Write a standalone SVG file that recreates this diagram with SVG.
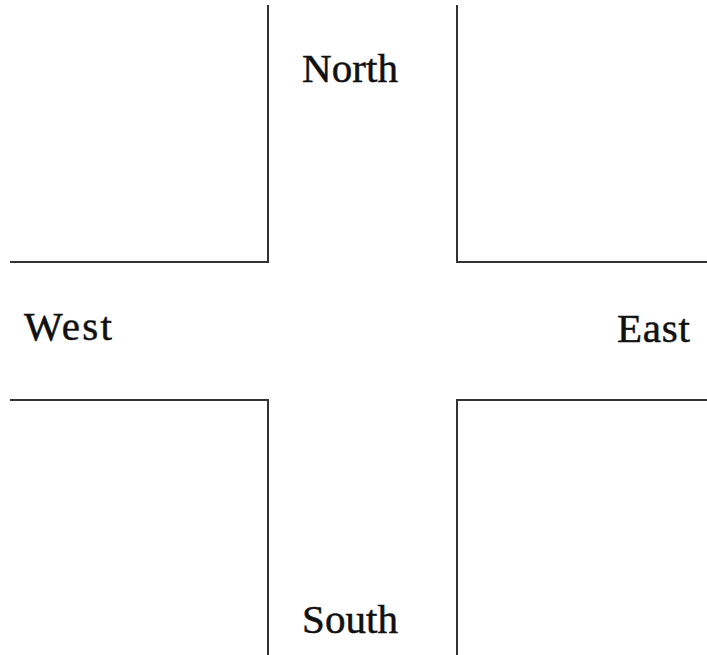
<svg xmlns="http://www.w3.org/2000/svg" width="707" height="655" viewBox="0 0 707 655">
<style>
.road{fill:none;stroke:#333;stroke-width:2}
.lbl{font-family:"Liberation Serif","DejaVu Serif",serif;font-size:41px;fill:#111;stroke:#111;stroke-width:0.5}
</style>
<rect width="707" height="655" fill="#fff"/>
<g id="connectors">
<path class="road" d="M268,5 V262 H10"/>
<path class="road" d="M457,5 V262 H707"/>
<path class="road" d="M10,400 H268 V655"/>
<path class="road" d="M707,400 H457 V655"/>
</g>
<g id="north"><text class="lbl" x="350" y="82" text-anchor="middle" textLength="96">North</text></g>
<g id="west"><text class="lbl" x="24" y="340" textLength="88">West</text></g>
<g id="east"><text class="lbl" x="617" y="342" textLength="73">East</text></g>
<g id="south"><text class="lbl" x="350" y="633" text-anchor="middle" textLength="96">South</text></g>
</svg>
